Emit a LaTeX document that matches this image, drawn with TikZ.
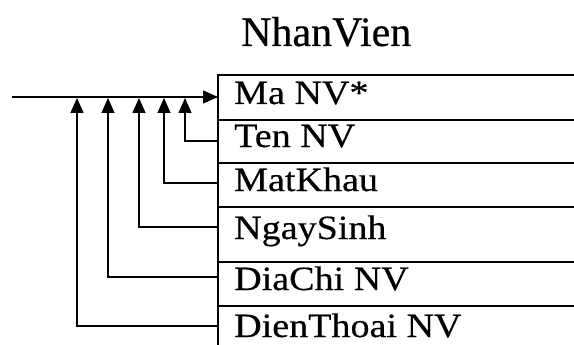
\documentclass[tikz,border=0pt]{standalone}
\usepackage{fontspec}
\setmainfont{Liberation Serif}[FakeBold=0.4]
\newfontfamily\rowfont{Liberation Serif}[FakeStretch=1.12,FakeBold=0.4]
\usetikzlibrary{arrows.meta}
\tikzset{
  x=1pt, y=-1pt,
  ln/.style={line width=1.4pt, black},
  arr/.style={ln, -{Triangle[length=15pt,width=13pt]}},
  rowtxt/.style={anchor=base west, inner sep=0pt, font=\rowfont\fontsize{34}{40}\selectfont},
  titletxt/.style={anchor=base west, inner sep=0pt, font=\fontsize{42}{48}\selectfont}
}
\begin{document}
\begin{tikzpicture}
\useasboundingbox (0,0) rectangle (574,345);
% title
\node[titletxt] (title) at (241,46) {NhanVien};
% table frame
\coordinate (tl) at (218,75);
\coordinate (bl) at (218,346);
\draw[ln] (bl) -- (tl) -- (575,75);
\foreach \y in {120,163,207,262,306} \draw[ln] (218,\y) -- (575,\y);
% row texts
\node[rowtxt] (ma) at (234,104) {Ma NV*};
\node[rowtxt] (ten) at (234,147) {Ten NV};
\node[rowtxt] (mk) at (234,191) {MatKhau};
\node[rowtxt] (ns) at (234,239) {NgaySinh};
\node[rowtxt] (dc) at (234,290) {DiaChi NV};
\node[rowtxt] (dt) at (234,337) {DienThoai NV};
% main arrow
\coordinate (start) at (12,97);
\coordinate (key) at (218,97);
\draw[arr] (start) -- (key);
% foreign reference arrows
\coordinate (p1) at (218,141); \coordinate (q1) at (185,98);
\coordinate (p2) at (218,183); \coordinate (q2) at (164,98);
\coordinate (p3) at (218,227); \coordinate (q3) at (139,98);
\coordinate (p4) at (218,277); \coordinate (q4) at (108,98);
\coordinate (p5) at (218,326); \coordinate (q5) at (77,98);
\draw[arr] (p1) -| (q1);
\draw[arr] (p2) -| (q2);
\draw[arr] (p3) -| (q3);
\draw[arr] (p4) -| (q4);
\draw[arr] (p5) -| (q5);
\end{tikzpicture}
\end{document}
